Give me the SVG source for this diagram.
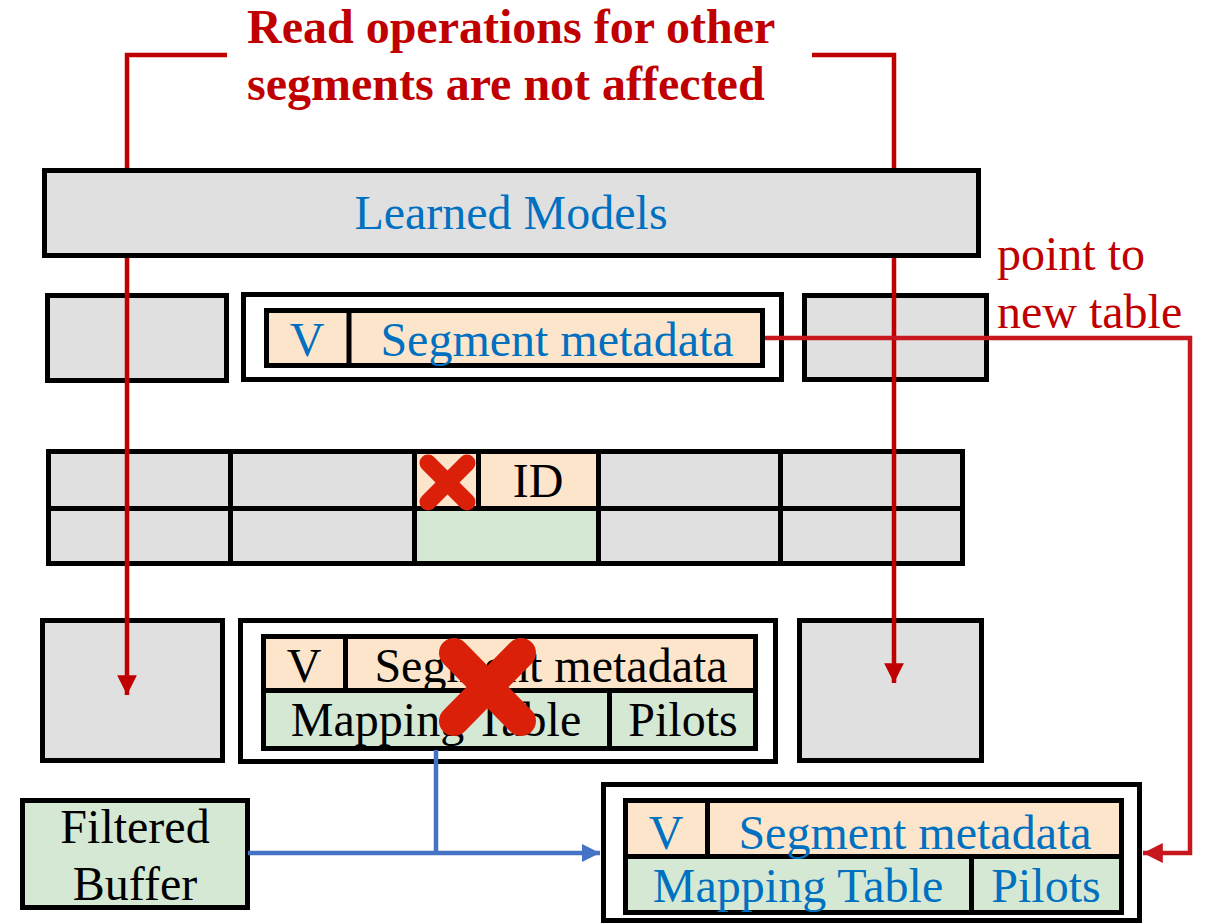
<svg xmlns="http://www.w3.org/2000/svg" width="1212" height="923" viewBox="0 0 1212 923">
<style>
.box{stroke:#000;stroke-width:5}
.gray{fill:#e0e0e0}
.white{fill:#fff}
.org{fill:#fce5cb}
.grn{fill:#d5e8d4}
text{font-family:"Liberation Serif","Times New Roman",serif;font-size:48px;text-anchor:middle}
.blue{fill:#0070c0}
.blk{fill:#000}
.red{fill:#c00000}
.title{font-weight:bold;text-anchor:start}
.rline{fill:none;stroke:#c00000;stroke-width:4.5}
.pline{fill:none;stroke:#c8161e;stroke-width:4.5}
.bline{fill:none;stroke:#4472c4;stroke-width:4.5}
.x{stroke:#da2008;stroke-linecap:round}
</style>
<defs>
<marker id="ar" viewBox="0 0 10 10" refX="10" refY="5" markerWidth="4.4" markerHeight="4.4" markerUnits="strokeWidth" orient="auto"><path d="M0,0 L10,5 L0,10 z" fill="#c00000"/></marker>
<marker id="ap" viewBox="0 0 10 10" refX="10" refY="5" markerWidth="4.4" markerHeight="4.4" markerUnits="strokeWidth" orient="auto"><path d="M0,0 L10,5 L0,10 z" fill="#c8161e"/></marker>
<marker id="ab" viewBox="0 0 10 10" refX="10" refY="5" markerWidth="4" markerHeight="4" markerUnits="strokeWidth" orient="auto"><path d="M0,0 L10,5 L0,10 z" fill="#4472c4"/></marker>
</defs>

<g id="title">
<text class="red title" x="247" y="43">Read operations for other</text>
<text class="red title" x="247" y="100">segments are not affected</text>
</g>

<g id="row2-left"><rect class="box gray" x="47.5" y="295.5" width="179" height="85"/></g>
<g id="row2-mid">
<rect class="box white" x="243.5" y="294.5" width="538" height="85"/>
<rect class="box org" x="266.5" y="310.5" width="496" height="55"/>
<line class="box" x1="349" y1="310" x2="349" y2="366"/>
<text class="blue" x="307" y="356">V</text>
<text class="blue" x="557" y="356">Segment metadata</text>
</g>
<g id="row2-right"><rect class="box gray" x="804.5" y="295.5" width="182" height="84"/></g>

<g id="table">
<rect class="box gray" x="48.5" y="451.5" width="182" height="57"/>
<rect class="box gray" x="48.5" y="508.5" width="182" height="55"/>
<rect class="box gray" x="230.5" y="451.5" width="184" height="57"/>
<rect class="box gray" x="230.5" y="508.5" width="184" height="55"/>
<rect class="box org" x="414.5" y="451.5" width="64" height="57"/>
<rect class="box org" x="478.5" y="451.5" width="120" height="57"/>
<rect class="box grn" x="414.5" y="508.5" width="184" height="55"/>
<rect class="box gray" x="598.5" y="451.5" width="182" height="57"/>
<rect class="box gray" x="598.5" y="508.5" width="182" height="55"/>
<rect class="box gray" x="780.5" y="451.5" width="182" height="57"/>
<rect class="box gray" x="780.5" y="508.5" width="182" height="55"/>
<text class="blk" x="538" y="497">ID</text>
<g class="x" stroke-width="17"><line x1="428" y1="463" x2="467" y2="502"/><line x1="467" y1="463" x2="428" y2="502"/></g>
</g>

<g id="row4-left"><rect class="box gray" x="42.5" y="620.5" width="180" height="140"/></g>
<g id="row4-mid">
<rect class="box white" x="240.5" y="620.5" width="535" height="141"/>
<rect class="box org" x="263.5" y="636.5" width="492" height="54"/>
<rect class="box org" x="263.5" y="636.5" width="82" height="54"/>
<rect class="box grn" x="263.5" y="690.5" width="346" height="58"/>
<rect class="box grn" x="609.5" y="690.5" width="146" height="58"/>
<text class="blk" x="304" y="682">V</text>
<text class="blk" x="551" y="682">Segment metadata</text>
<text class="blk" x="436" y="736">Mapping Table</text>
<text class="blk" x="683" y="736">Pilots</text>
<g class="x" stroke-width="30"><line x1="454" y1="653" x2="521" y2="721"/><line x1="521" y1="653" x2="454" y2="721"/></g>
</g>
<g id="row4-right"><rect class="box gray" x="799.5" y="620.5" width="182" height="140"/></g>

<g id="filtered-buffer">
<rect class="box grn" x="22.5" y="800.5" width="225" height="107"/>
<text class="blk" x="135" y="843">Filtered</text>
<text class="blk" x="135" y="900">Buffer</text>
</g>

<g id="new-table">
<rect class="box white" x="603.5" y="784.5" width="536" height="136"/>
<rect class="box org" x="625.5" y="800.5" width="496" height="56"/>
<rect class="box org" x="625.5" y="800.5" width="82" height="56"/>
<rect class="box grn" x="625.5" y="856.5" width="346" height="56"/>
<rect class="box grn" x="971.5" y="856.5" width="150" height="56"/>
<text class="blue" x="666" y="849">V</text>
<text class="blue" x="915" y="849">Segment metadata</text>
<text class="blue" x="798" y="902">Mapping Table</text>
<text class="blue" x="1046" y="902">Pilots</text>
</g>

<g id="connectors">
<path class="rline" d="M227,55 H127 V170"/>
<path class="rline" d="M127,258 V695" marker-end="url(#ar)"/>
<path class="rline" d="M812,55 H894 V170"/>
<path class="rline" d="M894,258 V683" marker-end="url(#ar)"/>
<path class="pline" d="M765,338 H1190 V853 H1143" marker-end="url(#ap)"/>
<path class="bline" d="M436,750 V853"/>
<path class="bline" d="M248,853 H600" marker-end="url(#ab)"/>
</g>

<g id="learned-models">
<rect class="box gray" x="44.5" y="170.5" width="934" height="85"/>
<text class="blue" x="511" y="229">Learned Models</text>
</g>

<g id="label-point">
<text class="red" x="997" y="270" style="text-anchor:start;fill:#c00000">point to</text>
<text class="red" x="997" y="328" style="text-anchor:start;fill:#c00000">new table</text>
</g>
</svg>
